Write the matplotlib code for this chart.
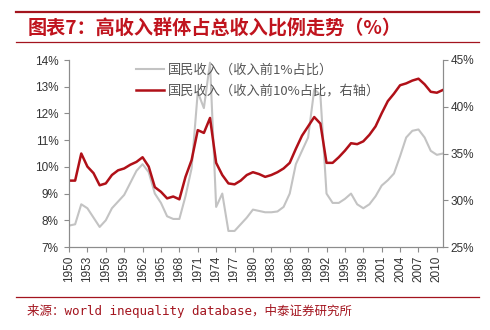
import matplotlib
matplotlib.use('Agg')
import matplotlib.pyplot as plt
from matplotlib.lines import Line2D
import numpy as np

years = list(range(1950, 2012))

# top 1% share (left axis, %)
top1 = [7.8, 7.85, 8.6, 8.45, 8.1, 7.75, 8.0, 8.45, 8.7, 8.95,
        9.4, 9.85, 10.1, 9.8, 9.0, 8.65, 8.15, 8.05, 8.05, 8.9,
        9.95, 12.8, 12.2, 13.9, 8.5, 9.0, 7.6, 7.6, 7.85, 8.1,
        8.4, 8.35, 8.3, 8.3, 8.33, 8.5, 9.0, 10.1, 10.6, 11.1,
        12.9, 12.7, 9.0, 8.65, 8.65, 8.8, 9.0, 8.6, 8.45, 8.6,
        8.9, 9.3, 9.5, 9.75, 10.4, 11.1, 11.35, 11.4, 11.1, 10.6,
        10.45, 10.5]

# top 10% share (right axis, %)
top10 = [32.1, 32.1, 35.0, 33.6, 32.9, 31.6, 31.8, 32.7, 33.2, 33.4,
         33.8, 34.1, 34.6, 33.6, 31.4, 30.9, 30.2, 30.4, 30.1, 32.5,
         34.3, 37.5, 37.2, 38.8, 34.0, 32.7, 31.8, 31.7, 32.1, 32.7,
         33.0, 32.8, 32.5, 32.7, 33.0, 33.4, 34.0, 35.5, 36.9, 37.9,
         38.9, 38.2, 34.0, 34.0, 34.6, 35.3, 36.1, 36.0, 36.3, 37.0,
         37.9, 39.3, 40.6, 41.4, 42.3, 42.5, 42.8, 43.0, 42.4, 41.6,
         41.5, 41.8]

label1 = '国民收入（收入前1%占比）'
label2 = '国民收入（收入前10%占比，右轴）'
title = '图表7：高收入群体占总收入比例走势（%）'
source = '来源：world inequality database，中泰证券研究所'

cjk = ['Noto Sans CJK SC', 'DejaVu Sans']
plt.rcParams['font.family'] = ['Liberation Sans', 'Noto Sans CJK SC']

fig = plt.figure(figsize=(4.9, 3.3), dpi=100)
ax1 = fig.add_axes([69/490, 1-247/330, (443-69)/490, (247-60)/330])
ax2 = ax1.twinx()

l1, = ax1.plot(years, top1, color='#c3c3c3', lw=1.5)
l2, = ax2.plot(years, top10, color='#b01018', lw=1.8)

ax1.set_xlim(1950, 2011)
ax1.set_ylim(7, 14)
ax2.set_ylim(25, 45)
ax1.set_yticks(range(7, 15))
ax1.set_yticklabels(['%d%%' % v for v in range(7, 15)])
ax2.set_yticks(range(25, 46, 5))
ax2.set_yticklabels(['%d%%' % v for v in range(25, 46, 5)])
xt = list(range(1950, 2011, 3))
ax1.set_xticks(xt)
ax1.set_xticklabels([str(y) for y in xt], rotation=90)

for a in (ax1, ax2):
    a.spines['top'].set_visible(False)
    for s in ('left', 'right', 'bottom'):
        a.spines[s].set_color('#8c8c8c')
    a.tick_params(colors='#8c8c8c', labelcolor='#333333', labelsize=8.5, length=3.5, width=0.8)
ax1.tick_params(axis='x', pad=3)
ax1.tick_params(axis='y', pad=4)
ax2.tick_params(axis='y', pad=2)

leg = ax2.legend([l1, l2], [label1, label2], loc='upper left',
                 bbox_to_anchor=(124/490, 1-52/330), bbox_transform=fig.transFigure,
                 frameon=False, handlelength=2.1, handletextpad=0.35, labelspacing=0.55,
                 prop={'family': cjk, 'size': 9.5})
for t in leg.get_texts():
    t.set_color('#555555')

rule = '#a3141e'
fig.add_artist(Line2D([16/490, 479/490], [1-12/330]*2, transform=fig.transFigure, color=rule, lw=1.6))
fig.add_artist(Line2D([16/490, 479/490], [1-42/330]*2, transform=fig.transFigure, color=rule, lw=0.9))
fig.add_artist(Line2D([16/490, 479/490], [1-297/330]*2, transform=fig.transFigure, color=rule, lw=0.9))

fig.text(28/490, 1-29/330, title, color='#c0141e', fontsize=13.8, fontweight='bold',
         family=cjk, va='center', ha='left')
fig.text(27/490, 1-311/330, source, color='#a3141e', fontsize=9,
         family=['DejaVu Sans Mono', 'Noto Sans CJK SC'], va='center', ha='left')

fig.savefig('out.png', dpi=100)
